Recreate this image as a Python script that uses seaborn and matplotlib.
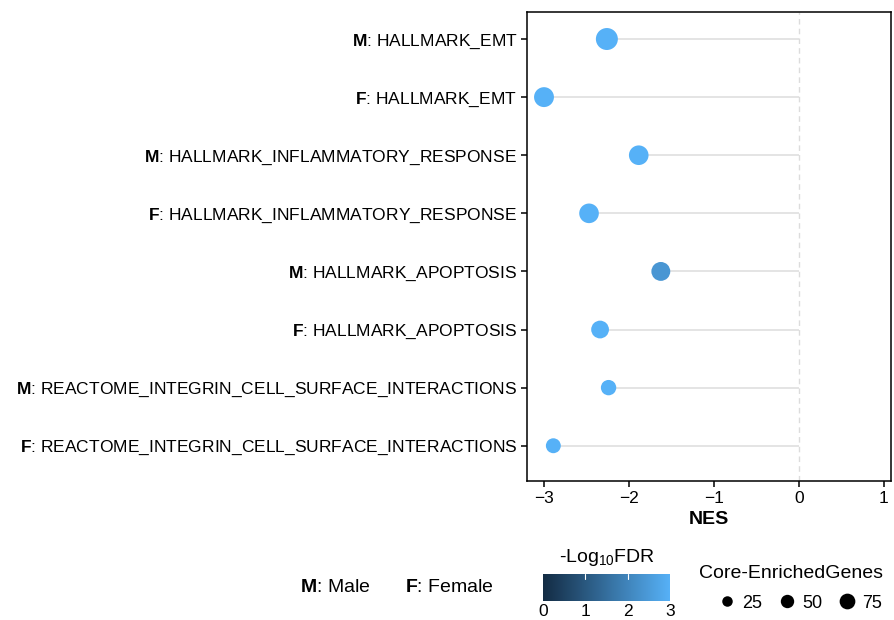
import numpy as np
import pandas as pd
import matplotlib
matplotlib.use("Agg")
import matplotlib.pyplot as plt
from matplotlib.colors import LinearSegmentedColormap, Normalize
from matplotlib.cm import ScalarMappable
from matplotlib.lines import Line2D
import seaborn as sns

# ---------------- data ----------------
sex = ["M", "F", "M", "F", "M", "F", "M", "F"]
pathways = ["HALLMARK_EMT", "HALLMARK_EMT",
            "HALLMARK_INFLAMMATORY_RESPONSE", "HALLMARK_INFLAMMATORY_RESPONSE",
            "HALLMARK_APOPTOSIS", "HALLMARK_APOPTOSIS",
            "REACTOME_INTEGRIN_CELL_SURFACE_INTERACTIONS",
            "REACTOME_INTEGRIN_CELL_SURFACE_INTERACTIONS"]
nes = [-2.26, -3.00, -1.885, -2.47, -1.625, -2.34, -2.24, -2.89]
neg_log10_fdr = [3.0, 3.0, 3.0, 3.0, 2.4, 3.0, 3.0, 3.0]
core_genes = [161, 129, 125, 125, 115, 100, 71, 66]
x_ticks = [-3, -2, -1, 0, 1]
fdr_ticks = [0, 1, 2, 3]
size_legend_values = [25, 50, 75]

# ---------------- style ----------------
sns.set_theme(style="white")
plt.rcParams["font.family"] = ["Liberation Sans", "DejaVu Sans"]
plt.rcParams["mathtext.fontset"] = "custom"
plt.rcParams["mathtext.rm"] = "Liberation Sans"
plt.rcParams["mathtext.it"] = "Liberation Sans:italic"
plt.rcParams["mathtext.bf"] = "Liberation Sans:bold"
for k in ["text.color", "axes.labelcolor", "xtick.color", "ytick.color",
          "axes.edgecolor"]:
    plt.rcParams[k] = "black"

cmap = LinearSegmentedColormap.from_list("gg", ["#132B43", "#56B1F7"])
S_MIN, S_MAX = 21.5, 306.0     # marker area (pt^2) for size_norm (0, 200)
SIZE_NORM = (0, 200)


def area(v):
    return S_MIN + (S_MAX - S_MIN) * (v - SIZE_NORM[0]) / (SIZE_NORM[1] - SIZE_NORM[0])


df = pd.DataFrame({
    "pos": np.arange(len(nes)),
    "label": [rf"$\mathbf{{{s}}}$: {p}" for s, p in zip(sex, pathways)],
    "NES": nes,
    "fdr": neg_log10_fdr,
    "genes": core_genes,
})

W, H = 894, 620
fig = plt.figure(figsize=(W / 100, H / 100), dpi=100)
ax = fig.add_axes([527 / W, 1 - 481 / H, (891 - 527) / W, (481 - 12) / H])

# lollipop stems
ax.hlines(df["pos"], df["NES"], 0, color="#DCDCDC", lw=1.1, zorder=1)
ax.axvline(0, color="#DCDCDC", lw=1.0, ls=(0, (4, 3)), zorder=1)

sns.scatterplot(data=df, x="NES", y="pos", hue="fdr", size="genes",
                palette=cmap, hue_norm=(0, 3), sizes=(S_MIN, S_MAX),
                size_norm=SIZE_NORM, legend=False, linewidth=0, ax=ax, zorder=3)

ax.set_xlim(-3.2, 1.084)
ax.set_ylim(7.607, -0.465)
ax.set_xticks(x_ticks)
ax.set_xticklabels([f"\u2212{abs(t)}" if t < 0 else str(t) for t in x_ticks])
ax.set_yticks(df["pos"])
ax.set_yticklabels(df["label"])
ax.tick_params(axis="both", which="both", direction="out", length=4, width=1.1,
               color="black", labelsize=12.5, labelcolor="black", pad=3,
               left=True, bottom=True)
ax.set_ylabel("")
ax.set_xlabel("NES", fontsize=14, fontweight="bold", labelpad=4, color="black")
for sp in ax.spines.values():
    sp.set_visible(True)
    sp.set_color("black")
    sp.set_linewidth(1.1)
ax.grid(False)

# ---------------- bottom legends ----------------
fig.text(300 / W, 1 - 587 / H, r"$\mathbf{M}$: Male", fontsize=14, va="center", ha="left")
fig.text(405 / W, 1 - 587 / H, r"$\mathbf{F}$: Female", fontsize=14, va="center", ha="left")

cax = fig.add_axes([543 / W, 1 - 601 / H, 127 / W, 27 / H])
sm = ScalarMappable(norm=Normalize(0, 3), cmap=cmap)
cb = fig.colorbar(sm, cax=cax, orientation="horizontal", ticks=fdr_ticks)
cb.outline.set_visible(False)
cax.tick_params(axis="x", direction="in", length=5, width=0.8, color="white",
                labelsize=12.5, labelcolor="black", pad=2)
for t in fdr_ticks[1:-1]:
    cax.axvline(t, ymin=0.8, ymax=1.0, color="white", lw=0.8)
fig.text(607 / W, 1 - 558 / H, r"-Log$_{10}$FDR", fontsize=14, ha="center", va="center")

fig.text(699 / W, 1 - 573 / H, "Core-EnrichedGenes", fontsize=14, ha="left", va="center")
handles = [Line2D([], [], marker="o", ls="", color="black", markeredgewidth=0,
                  markersize=np.sqrt(area(v))) for v in size_legend_values]
leg = fig.legend(handles, [str(v) for v in size_legend_values], ncol=3,
                 fontsize=13, loc="center left",
                 bbox_to_anchor=(718 / W, 1 - 603 / H),
                 frameon=False, borderpad=0, borderaxespad=0, handlelength=1.05,
                 handletextpad=0.3, columnspacing=0.85)
for t in leg.get_texts():
    t.set_color("black")

fig.savefig("out.png", dpi=100)
